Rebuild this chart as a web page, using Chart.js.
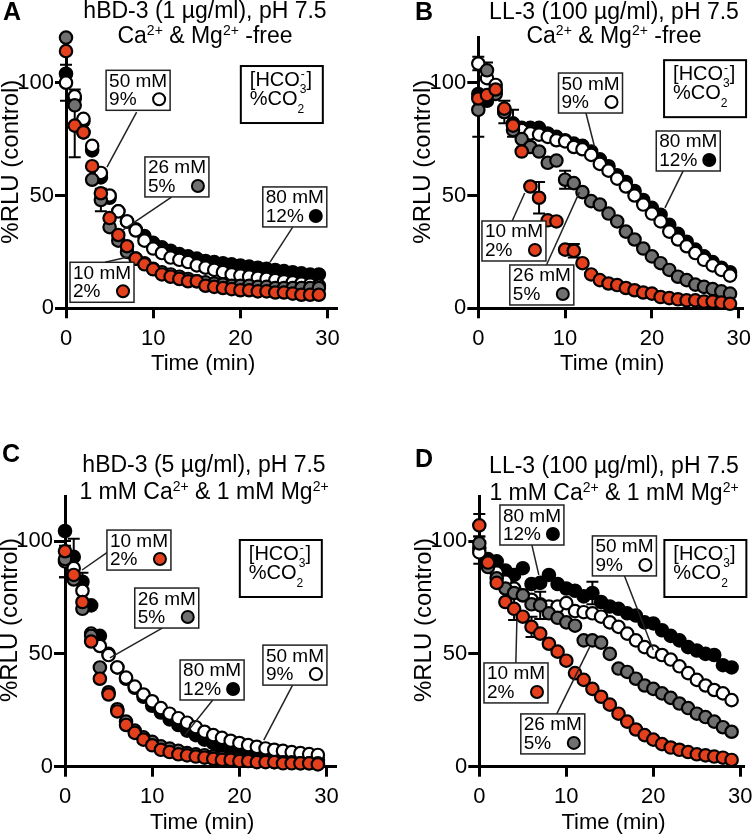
<!DOCTYPE html>
<html>
<head>
<meta charset="utf-8">
<script src="https://cdn.jsdelivr.net/npm/chart.js@4.4.1/dist/chart.umd.min.js"></script>
<style>
  html, body { margin: 0; padding: 0; background: #fff; }
  #wrap { position: relative; width: 754px; height: 835px; overflow: hidden; }
  canvas { position: absolute; }
</style>
</head>
<body>
<div id="wrap">
  <canvas id="cA" width="377" height="420" style="left:0;top:0"></canvas>
  <canvas id="cB" width="377" height="420" style="left:377px;top:0"></canvas>
  <canvas id="cC" width="377" height="415" style="left:0;top:420px"></canvas>
  <canvas id="cD" width="377" height="415" style="left:377px;top:420px"></canvas>
</div>
<script>
// time points (min)
var times = [0, 1, 2, 3, 4, 5, 6, 7, 8, 9, 10, 11, 12, 13, 14, 15, 16, 17, 18, 19, 20, 21, 22, 23, 24, 25, 26, 27, 28, 29];
var xTicks = [0, 10, 20, 30];
var yTicks = [0, 50, 100];

// [HCO3-] / %CO2 groups, drawn top to bottom: red, gray, white, black
var concs = ['10 mM', '26 mM', '50 mM', '80 mM'];
var co2 = ['2%', '5%', '9%', '12%'];
var fills = ['#e4401e', '#707070', '#ffffff', '#000000'];

// panel A - hBD-3 1 ug/ml, Ca/Mg free
var aRed   = [114, 81, 78, 63, 51, 40, 32.5, 27.5, 22, 19.5, 17.3, 15, 14, 13, 12, 12, 10, 9.5, 9, 8.5, 8, 8, 7.5, 7.5, 7, 7, 6.5, 6, 6, 6];
var aGray  = [120, 90, 78, 57, 48, 36, 30, 25, 22, 20, 17.5, 16, 15, 14, 13, 12, 11.5, 11, 10.5, 10, 10, 10, 9.5, 9.5, 9, 9, 9, 9, 9, 9];
var aWhite = [100, 94, 84, 72, 60, 50, 43, 38.5, 34.5, 30, 26.5, 24.5, 22.5, 21.5, 20.5, 19, 18, 17, 16, 15, 14.5, 14, 13.5, 13, 12.5, 12, 11.5, 11, 10.5, 10];
var aBlack = [104, 93, 83, 70, 58, 49, 43, 38.5, 35, 32, 29, 27, 25.5, 24, 23, 22, 21, 20.5, 20, 19.5, 19, 18.5, 18, 17.5, 17, 16.5, 16, 15.5, 15, 15];
var aErrors = [[2, 0, 8], [0, 1, 14], [1, 4, 5], [3, 1, 4]];   // [series, index, sem]

// panel B - LL-37 100 ug/ml, Ca/Mg free
var bRed   = [93, 94.5, 97, 88.5, 81, 69.5, 54, 49, 39, 38.5, 26, 25.5, 20, 15, 12.5, 11, 10.3, 9, 8, 7, 6.5, 5, 4.5, 4, 3.5, 3.5, 3, 3, 2.5, 2];
var bGray  = [88, 105.5, 95, 87, 79, 75, 71.5, 69.5, 64.5, 65.5, 57, 55.5, 51.5, 47.5, 46, 42, 38.5, 34, 30.5, 26.5, 23, 20, 17, 14, 12.5, 10.5, 9.5, 8.5, 7.5, 6.5];
var bWhite = [108.5, 102, 99, 88, 81, 79, 77.5, 77, 76, 74.5, 74, 71.5, 70.5, 68, 64, 61, 57.5, 54, 50, 46, 42, 38.5, 34, 30.5, 27.5, 24.5, 21.5, 19, 17, 14.5];
var bBlack = [95, 92, 96, 87, 82, 80, 80, 80, 77.5, 76, 74.5, 73, 72, 69.5, 66, 63, 59, 56, 52, 48, 44.5, 41.5, 37, 33, 29.5, 26, 23, 20.5, 18, 16];
var bErrors = [[0, 0, 17], [1, 1, 3.5], [3, 3, 5], [3, 4, 6], [0, 7, 7], [1, 10, 4], [0, 11, 3], [2, 0, 3]];

// panel C - hBD-3 5 ug/ml, 1 mM Ca & Mg
var cRed   = [95.5, 85, 73, 55.5, 39, 32, 24.5, 18.5, 15, 12, 9.5, 7.5, 6.5, 5.5, 5, 4.5, 4, 3.5, 3, 3, 2.5, 2.5, 2, 2, 2, 1.5, 1.5, 1.5, 1.5, 1];
var cGray  = [92, 83, 70, 58, 44, 33, 25.5, 20, 16, 13, 11, 9, 8, 7, 6, 5.5, 5, 4.5, 4, 3.5, 3, 3, 2.5, 2.5, 2, 2, 2, 1.5, 1.5, 1.5];
var cWhite = [91, 88, 78, 59, 53.5, 49.5, 44, 39.5, 35.5, 32, 29, 26, 23.5, 21.5, 19.5, 17.5, 15.5, 14, 12.8, 11.5, 10.5, 9.6, 8.8, 8.1, 7.5, 7, 6.5, 6, 5.6, 5.2];
var cBlack = [104.5, 93, 82, 71.5, 58, 50, 44, 39, 35, 31, 27, 24, 21, 18.5, 16, 14, 12, 10.5, 9, 8, 7, 6, 5.5, 5, 4.5, 4, 4, 3.5, 3, 3];
var cErrors = [[1, 0, 8], [2, 0, 7], [3, 1, 8], [3, 2, 4]];

// panel D - LL-37 100 ug/ml, 1 mM Ca & Mg
var dRed   = [107, 90.5, 81.5, 73, 70, 66.5, 62, 59, 54.5, 51, 47, 41.5, 38.5, 34.5, 31, 27.5, 23.5, 20, 16.5, 14, 12, 10, 8.5, 7.5, 6.5, 5.5, 5, 4.5, 4, 3];
var dGray  = [99, 88.5, 83.5, 79, 77, 76, 72, 71.5, 68, 66, 64, 62.5, 56, 56, 55, 50, 43.5, 42, 39, 36, 34.5, 32.5, 30.5, 28, 26, 23.5, 22, 20, 17.5, 15.5];
var dWhite = [95, 90, 86, 82, 79, 76, 74, 72, 71, 71, 72.5, 69, 68.5, 68, 66.5, 64, 62, 59, 56, 53, 51, 49.5, 47.5, 44.5, 41.5, 38.5, 36, 34, 32.5, 29.5];
var dBlack = [97, 92, 91, 87, 85, 88, 81, 81.5, 85, 81, 79, 78, 75.5, 77, 73, 71, 70, 68, 67, 64, 63.5, 60.5, 58, 56, 53, 51.5, 50, 49.5, 45, 44];
var dErrors = [[0, 0, 5], [1, 0, 3], [0, 4, 5], [0, 6, 4.5], [1, 7, 6], [3, 13, 5], [2, 0, 5]];

var FONT = "'Liberation Sans', Arial, sans-serif";
Chart.defaults.font.family = FONT;
Chart.defaults.color = '#000';

var freeLine = [['Ca', 0], ['2+', 1], [' & Mg', 0], ['2+', 1], [' -free', 0]];
var ionLine = [['1 mM Ca', 0], ['2+', 1], [' & 1 mM Mg', 0], ['2+', 1]];

var panels = [
  { id: 'cA', letter: 'A', lx: 3, ly: 20, tx: 205, ty: [18, 43],
    title: [[['hBD-3 (1 µg/ml), pH 7.5', 0]], freeLine],
    area: [66, 336.3, 37.6, 308.3], xmax: 31,
    series: [aRed, aGray, aWhite, aBlack], errors: aErrors,
    notes: [
      { s: 2, box: [4.6, 105.5], from: [8.1, 87], to: [4.7, 62.6] },
      { s: 1, box: [9.05, 67.1], from: [12.1, 49.3], to: [6.5, 34.7] },
      { s: 3, box: [22.57, 53.8], from: [26.0, 36], to: [23.4, 20.5] },
      { s: 0, box: [0.46, 20.4], from: [4.47, 20.4], to: [7.1, 22.7] }
    ], legend: [20.05, 107.4] },
  { id: 'cB', letter: 'B', lx: 38, ly: 20, tx: 237, ty: [19, 43],
    title: [[['LL-3 (100 µg/ml), pH 7.5', 0]], freeLine],
    area: [101.3, 365.2, 37.6, 308.3], xmax: 30.4,
    series: [bRed, bGray, bWhite, bBlack], errors: bErrors,
    notes: [
      { s: 2, box: [9.24, 104.3], from: [12.4, 86.6], to: [13.4, 71.5] },
      { s: 3, box: [20.5, 78.6], from: [23.6, 60.9], to: [21.5, 44.5] },
      { s: 0, box: [0.42, 38.7], from: [3.9, 38.7], to: [5.35, 51.1] },
      { s: 1, box: [3.63, 19.2], from: [7.85, 19.2], to: [11.65, 51.5] }
    ], legend: [21.4, 110] },
  { id: 'cC', letter: 'C', lx: 2, ly: 42, tx: 204, ty: [52, 79],
    title: [[['hBD-3 (5 µg/ml), pH 7.5', 0]], ionLine],
    area: [65, 335.3, 76, 346.7], xmax: 31,
    series: [cRed, cGray, cWhite, cBlack], errors: cErrors,
    notes: [
      { s: 0, box: [4.81, 104.9], from: [4.93, 95.2], to: [1.95, 87.2] },
      { s: 1, box: [8.0, 79.2], from: [11.2, 61.5], to: [5.15, 48.2] },
      { s: 3, box: [13.2, 47.3], from: [16.95, 29.6], to: [13.75, 14.1] },
      { s: 2, box: [22.7, 53.9], from: [26.1, 36.2], to: [22.8, 11.8] }
    ], legend: [20.05, 100.5] },
  { id: 'cD', letter: 'D', lx: 38, ly: 47, tx: 237, ty: [53, 80],
    title: [[['LL-3 (100 µg/ml), pH 7.5', 0]], ionLine],
    area: [102.3, 366.8, 76, 346.7], xmax: 30.4,
    series: [dRed, dGray, dWhite, dBlack], errors: dErrors,
    notes: [
      { s: 3, box: [2.37, 116], from: [6.04, 98.3], to: [6.84, 85] },
      { s: 2, box: [13.0, 102.3], from: [16.6, 85.4], to: [20.0, 51.7] },
      { s: 0, box: [0.54, 46], from: [4.2, 46], to: [4.32, 65] },
      { s: 1, box: [4.77, 23.4], from: [8.9, 23.4], to: [12.68, 53] }
    ], legend: [21.27, 100.5] }
];

// text with super/subscripts: mode 0 normal, 1 sup, -1 sub, 2 stacked [sub, sup]
function drawRich(ctx, parts, x, y, size, align) {
  var small = Math.round(size * 0.62);
  var widths = parts.map(function(p) {
    if (p[1] === 0) { ctx.font = size + 'px ' + FONT; return ctx.measureText(p[0]).width; }
    ctx.font = small + 'px ' + FONT;
    if (p[1] === 2) return Math.max(ctx.measureText(p[0][0]).width, ctx.measureText(p[0][1]).width);
    return ctx.measureText(p[0]).width;
  });
  var total = widths.reduce(function(a, b) { return a + b; }, 0);
  var cx = align === 'center' ? x - total / 2 : x;
  ctx.textAlign = 'left';
  ctx.textBaseline = 'alphabetic';
  parts.forEach(function(p, i) {
    if (p[1] === 0) {
      ctx.font = size + 'px ' + FONT;
      ctx.fillText(p[0], cx, y);
    } else {
      ctx.font = small + 'px ' + FONT;
      if (p[1] === 1) ctx.fillText(p[0], cx, y - size * 0.36);
      else if (p[1] === -1) ctx.fillText(p[0], cx, y + size * 0.4);
      else {
        ctx.fillText(p[0][0], cx, y + size * 0.36);
        ctx.fillText(p[0][1], cx + 1, y - size * 0.42);
      }
    }
    cx += widths[i];
  });
}

function panelPlugin(p) {
  return {
    id: 'panelText',
    beforeDatasetsDraw: function(chart) {
      var ctx = chart.ctx, ys = chart.scales.y;
      ctx.save();
      ctx.strokeStyle = '#000';
      ctx.lineWidth = 2;
      p.errors.forEach(function(e) {
        var pt = chart.getDatasetMeta(e[0]).data[e[1]];
        var v = p.series[e[0]][e[1]];
        var y1 = ys.getPixelForValue(v + e[2]), y2 = ys.getPixelForValue(v - e[2]);
        ctx.beginPath();
        ctx.moveTo(pt.x, y1); ctx.lineTo(pt.x, y2);
        ctx.moveTo(pt.x - 6, y1); ctx.lineTo(pt.x + 6, y1);
        ctx.moveTo(pt.x - 6, y2); ctx.lineTo(pt.x + 6, y2);
        ctx.stroke();
      });
      ctx.restore();
    },
    afterDraw: function(chart) {
      var ctx = chart.ctx, xs = chart.scales.x, ys = chart.scales.y, ca = chart.chartArea;
      ctx.save();
      ctx.fillStyle = '#000';
      // panel letter
      ctx.font = 'bold 25px ' + FONT;
      ctx.textAlign = 'left';
      ctx.textBaseline = 'alphabetic';
      ctx.fillText(p.letter, p.lx, p.ly);
      // titles
      drawRich(ctx, p.title[0], p.tx, p.ty[0], 23, 'center');
      drawRich(ctx, p.title[1], p.tx, p.ty[1], 23, 'center');
      // axis titles
      ctx.font = '22px ' + FONT;
      ctx.textAlign = 'center';
      ctx.fillText('Time (min)', (ca.left + ca.right) / 2 + 2, ca.bottom + 62);
      ctx.save();
      ctx.translate(ca.left - 55, ys.getPixelForValue(65));
      ctx.rotate(-Math.PI / 2);
      ctx.font = '24px ' + FONT;
      ctx.textBaseline = 'middle';
      ctx.fillText('%RLU (control)', 0, 0);
      ctx.restore();

      // labelled boxes with leader lines
      p.notes.forEach(function(n) {
        var bx = xs.getPixelForValue(n.box[0]), by = ys.getPixelForValue(n.box[1]);
        ctx.strokeStyle = '#222';
        ctx.lineWidth = 1.5;
        ctx.beginPath();
        ctx.moveTo(xs.getPixelForValue(n.from[0]), ys.getPixelForValue(n.from[1]));
        ctx.lineTo(xs.getPixelForValue(n.to[0]), ys.getPixelForValue(n.to[1]));
        ctx.stroke();
        ctx.fillStyle = '#fff';
        ctx.fillRect(bx, by, 64, 40);
        ctx.strokeRect(bx, by, 64, 40);
        ctx.fillStyle = '#000';
        ctx.font = '19px ' + FONT;
        ctx.textAlign = 'left';
        ctx.textBaseline = 'alphabetic';
        ctx.fillText(concs[n.s], bx + 3, by + 16.5);
        ctx.fillText(co2[n.s], bx + 3, by + 35);
        ctx.beginPath();
        ctx.arc(bx + 53, by + 29, 6, 0, Math.PI * 2);
        ctx.fillStyle = fills[n.s];
        ctx.fill();
        ctx.strokeStyle = '#000';
        ctx.lineWidth = 2;
        ctx.stroke();
      });

      // key box
      var lx = xs.getPixelForValue(p.legend[0]), ly = ys.getPixelForValue(p.legend[1]);
      ctx.fillStyle = '#fff';
      ctx.fillRect(lx, ly, 82, 57);
      ctx.strokeStyle = '#000';
      ctx.lineWidth = 2;
      ctx.strokeRect(lx, ly, 82, 57);
      ctx.fillStyle = '#000';
      drawRich(ctx, [['[HCO', 0], [['3', '-'], 2], [']', 0]], lx + 9, ly + 20, 20, 'left');
      drawRich(ctx, [['%CO', 0], ['2', -1]], lx + 9, ly + 39, 20, 'left');
      ctx.restore();
    }
  };
}

function makeChart(p) {
  var canvas = document.getElementById(p.id);
  var W = canvas.width, H = canvas.height;
  var yW = 60, xH = 40;
  var datasets = p.series.map(function(vals, i) {
    return {
      label: concs[i],
      data: times.map(function(t, k) { return { x: t, y: vals[k] }; }),
      pointRadius: 6.2,
      pointBorderWidth: 2.2,
      pointBackgroundColor: fills[i],
      pointBorderColor: '#000',
      showLine: false,
      clip: false
    };
  });
  var fixPad = function(s) { s.paddingLeft = 0; s.paddingRight = 0; s.paddingTop = 0; s.paddingBottom = 0; };
  new Chart(canvas, {
    type: 'scatter',
    data: { datasets: datasets },
    options: {
      responsive: false,
      animation: false,
      events: [],
      layout: { padding: { left: p.area[0] - yW, right: W - p.area[1], top: p.area[2], bottom: H - p.area[3] - xH } },
      plugins: { legend: { display: false }, tooltip: { enabled: false } },
      scales: {
        x: {
          type: 'linear', min: 0, max: p.xmax,
          afterBuildTicks: function(s) { s.ticks = xTicks.map(function(v) { return { value: v }; }); },
          afterFit: function(s) { s.height = xH; fixPad(s); },
          ticks: { padding: 7, color: '#000', font: { size: 22 } },
          grid: { drawOnChartArea: false, drawTicks: true, tickLength: 10, lineWidth: 3, color: '#000' },
          border: { display: true, width: 3, color: '#000' }
        },
        y: {
          type: 'linear', min: 0, max: 120,
          afterBuildTicks: function(s) { s.ticks = yTicks.map(function(v) { return { value: v }; }); },
          afterFit: function(s) { s.width = yW; fixPad(s); },
          ticks: { padding: 1, color: '#000', font: { size: 22 } },
          grid: { drawOnChartArea: false, drawTicks: true, tickLength: 11, lineWidth: 3, color: '#000' },
          border: { display: true, width: 3, color: '#000' }
        }
      }
    },
    plugins: [panelPlugin(p)]
  });
}

panels.forEach(makeChart);
</script>
</body>
</html>
